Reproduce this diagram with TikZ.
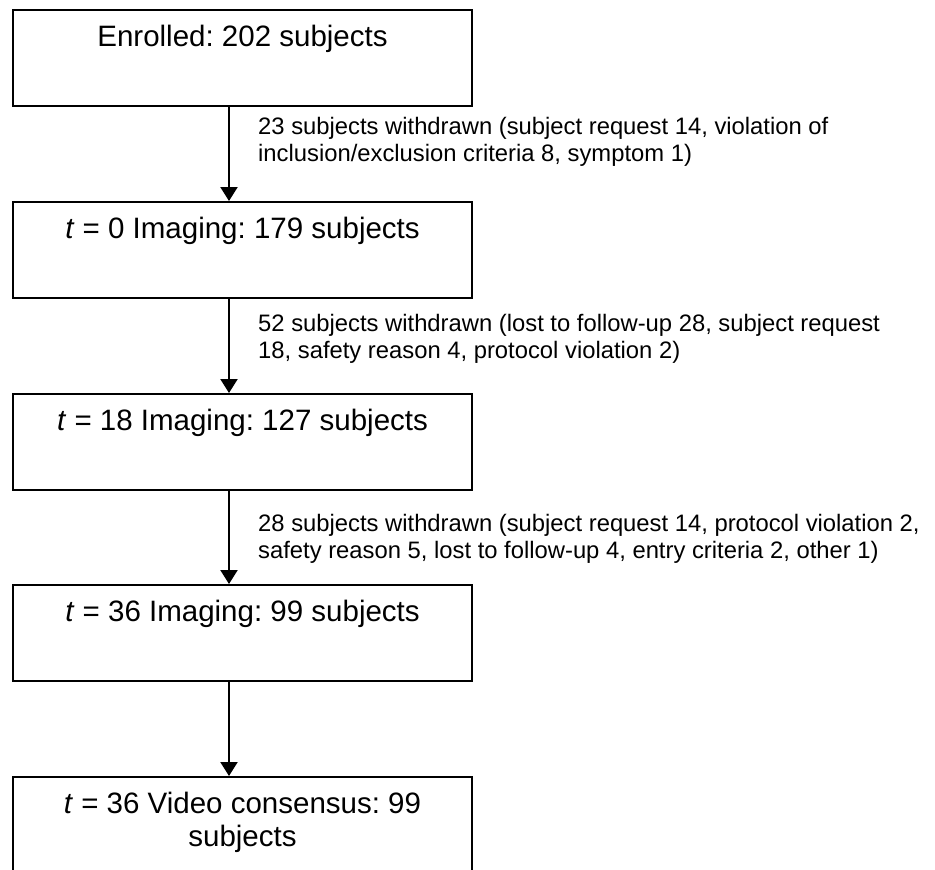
\documentclass[tikz,border=0pt]{standalone}
\usepackage{fontspec}
\setmainfont{Liberation Sans}
\usetikzlibrary{arrows.meta}
\frenchspacing
\tikzset{
  stage/.style={draw, line width=2pt, minimum width=459pt, minimum height=96pt, inner sep=0pt},
  stagetext/.style={anchor=north, inner sep=0pt, yshift=-16pt, align=center, font=\fontsize{29.5}{33}\selectfont},
  note/.style={anchor=north west, inner sep=0pt, align=left, font=\fontsize{23.8}{27.5}\selectfont}
}
\begin{document}
\begin{tikzpicture}[x=1pt, y=-1pt, >={Triangle[length=14pt,width=17pt]}]
        \useasboundingbox (0,0) rectangle (935,870);
        \foreach \n/\y/\txt in {b1/10/{Enrolled: 202 subjects},
                                b2/202/{\textit{t} = 0 Imaging: 179 subjects},
                                b3/394/{\textit{t} = 18 Imaging: 127 subjects},
                                b4/585/{\textit{t} = 36 Imaging: 99 subjects},
                                b5/777/{\textit{t} = 36 Video consensus: 99\\subjects}}
        {
            \node [stage, label={[stagetext]north:{\txt}}] (\n) at (242.5,\y+48) {};
        }
        \coordinate (ax) at (229,0);
        \foreach \a/\b in {b1/b2, b2/b3, b3/b4, b4/b5}
        {
            \draw [->, line width=2.2pt] (\a.south -| ax) -- (\b.north -| ax);
        }
        \node [note] (w1) at (258,117) {23 subjects withdrawn (subject request 14, violation of\\inclusion/exclusion criteria 8, symptom 1)};
        \node [note] (w2) at (258,314) {52 subjects withdrawn (lost to follow-up 28, subject request\\18, safety reason 4, protocol violation 2)};
        \node [note] (w3) at (258,514) {28 subjects withdrawn (subject request 14, protocol violation 2,\\safety reason 5, lost to follow-up 4, entry criteria 2, other 1)};
\end{tikzpicture}
\end{document}
